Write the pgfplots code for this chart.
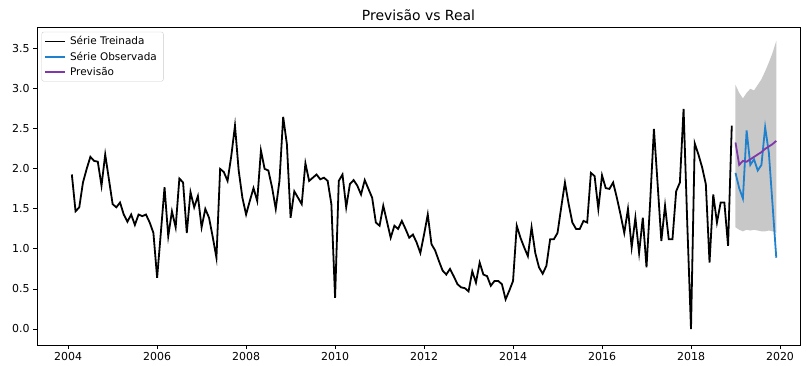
\documentclass[border=0pt]{standalone}
\usepackage{fontspec}
\setmainfont{DejaVu Sans}
\usepackage{pgfplots}
\usepackage{pgfplotstable}
\pgfplotsset{compat=1.18}
\usepgfplotslibrary{fillbetween}
\definecolor{obsblue}{RGB}{31,128,205}
\definecolor{prevpurple}{RGB}{128,55,170}
\definecolor{bandgray}{RGB}{200,200,200}

\pgfplotstableread{
m v
1 1.93
2 1.47
3 1.52
4 1.83
5 2.00
6 2.15
7 2.10
8 2.09
9 1.79
10 2.18
11 1.87
12 1.56
13 1.52
14 1.58
15 1.43
16 1.34
17 1.43
18 1.30
19 1.43
20 1.41
21 1.43
22 1.33
23 1.20
24 0.64
25 1.20
26 1.77
27 1.16
28 1.47
29 1.27
30 1.88
31 1.83
32 1.20
33 1.71
34 1.52
35 1.66
36 1.27
37 1.50
38 1.39
39 1.15
40 0.89
41 2.00
42 1.96
43 1.85
44 2.16
45 2.54
46 1.98
47 1.64
48 1.43
49 1.60
50 1.76
51 1.60
52 2.23
53 2.00
54 1.98
55 1.77
56 1.50
57 1.85
58 2.65
59 2.31
60 1.39
61 1.72
62 1.64
63 1.56
64 2.07
65 1.85
66 1.89
67 1.93
68 1.87
69 1.89
70 1.85
71 1.56
72 0.39
73 1.85
74 1.93
75 1.52
76 1.81
77 1.86
78 1.79
79 1.68
80 1.86
81 1.75
82 1.64
83 1.33
84 1.29
85 1.54
86 1.34
87 1.14
88 1.29
89 1.25
90 1.35
91 1.25
92 1.14
93 1.18
94 1.08
95 0.95
96 1.18
97 1.43
98 1.06
99 0.98
100 0.85
101 0.73
102 0.68
103 0.75
104 0.66
105 0.56
106 0.52
107 0.51
108 0.47
109 0.72
110 0.58
111 0.83
112 0.68
113 0.66
114 0.54
115 0.60
116 0.60
117 0.56
118 0.37
119 0.48
120 0.60
121 1.29
122 1.14
123 1.02
124 0.91
125 1.27
126 0.95
127 0.77
128 0.69
129 0.79
130 1.12
131 1.12
132 1.20
133 1.52
134 1.83
135 1.56
136 1.33
137 1.25
138 1.25
139 1.35
140 1.33
141 1.95
142 1.91
143 1.50
144 1.92
145 1.76
146 1.75
147 1.83
148 1.64
149 1.43
150 1.20
151 1.50
152 1.02
153 1.39
154 0.95
155 1.39
156 0.77
157 1.60
158 2.50
159 1.81
160 1.10
161 1.54
162 1.12
163 1.12
164 1.72
165 1.83
166 2.75
167 1.31
168 0.00
169 2.32
170 2.18
171 2.02
172 1.81
173 0.83
174 1.68
175 1.33
176 1.58
177 1.58
178 1.04
179 2.54
}\treino

\pgfplotstableread{
m obs prev up lo
180 1.95 2.33 3.05 1.27
181 1.76 2.05 2.95 1.24
182 1.63 2.10 2.88 1.22
183 2.48 2.09 2.95 1.24
184 2.05 2.12 3.00 1.23
185 2.12 2.15 2.98 1.24
186 1.98 2.18 3.05 1.23
187 2.05 2.21 3.12 1.22
188 2.52 2.25 3.22 1.22
189 2.20 2.28 3.33 1.23
190 1.55 2.31 3.45 1.22
191 0.89 2.35 3.60 1.20
}\teste

\begin{document}
\begin{tikzpicture}
\begin{axis}[
  at={(0,0)}, anchor=south west,
  scale only axis, width=763bp, height=317bp,
  xmin=2003.3, xmax=2020.45, ymin=-0.2, ymax=3.76,
  xtick={2004,2006,...,2020},
  ytick={0,0.5,...,3.5},
  /pgf/number format/assume math mode=true,
  xticklabel style={/pgf/number format/set thousands separator={}, font=\fontsize{11}{13}\selectfont},
  yticklabel style={/pgf/number format/fixed, /pgf/number format/fixed zerofill, /pgf/number format/precision=1, font=\fontsize{11}{13}\selectfont},
  tick align=outside, xtick pos=bottom, ytick pos=left,
  major tick length=4bp,
  tick style={black, line width=0.9bp},
  axis line style={line width=1bp},
  title={Previsão vs Real},
  title style={font=\fontsize{14}{16}\selectfont, yshift=-2bp},
  legend style={at={(0.006,0.988)}, anchor=north west, draw=gray!40, rounded corners=2bp,
    font=\fontsize{10.5}{12}\selectfont, row sep=1.5bp, inner sep=2.5bp, fill=white, fill opacity=0.8, text opacity=1,
    nodes={inner xsep=4bp}},
  legend cell align=left,
  legend image code/.code={\draw[#1, line width=1.8bp] (0bp,0bp) -- (20bp,0bp);},
]
\addplot[name path=up, draw=none, forget plot] table[x expr=2004+\thisrow{m}/12, y=up] {\teste};
\addplot[name path=lo, draw=none, forget plot] table[x expr=2004+\thisrow{m}/12, y=lo] {\teste};
\addplot[bandgray, forget plot] fill between[of=up and lo];
\addplot[black, line width=1.8bp] table[x expr=2004+\thisrow{m}/12, y=v] {\treino};
\addlegendentry{Série Treinada}
\addplot[obsblue, line width=1.8bp] table[x expr=2004+\thisrow{m}/12, y=obs] {\teste};
\addlegendentry{Série Observada}
\addplot[prevpurple, line width=1.8bp] table[x expr=2004+\thisrow{m}/12, y=prev] {\teste};
\addlegendentry{Previsão}
\end{axis}
\pgfresetboundingbox
\path (-37bp,-21bp) rectangle (770bp,345bp);
\end{tikzpicture}
\end{document}
